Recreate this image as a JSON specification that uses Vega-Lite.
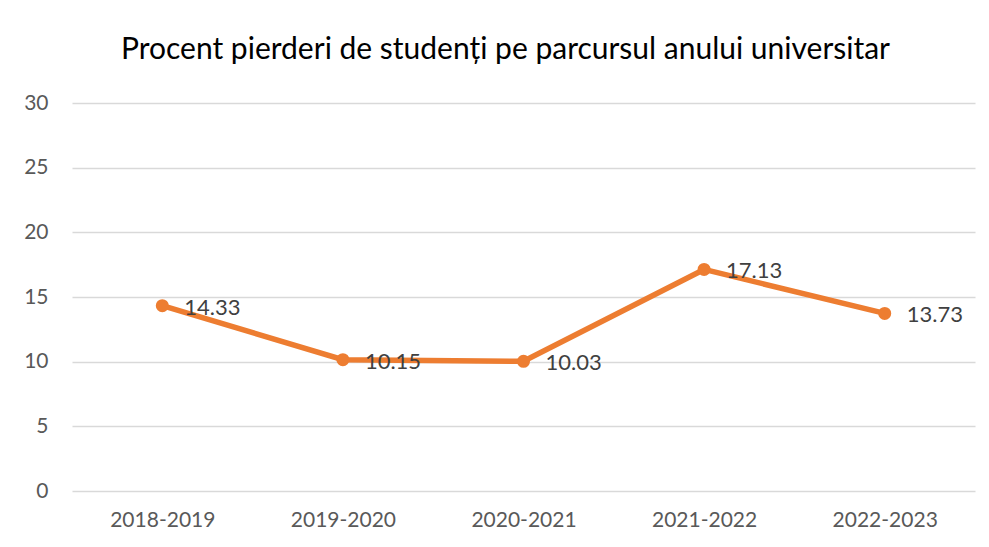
{
  "$schema": "https://vega.github.io/schema/vega-lite/v6.json",
  "width": 903,
  "height": 388,
  "autosize": "none",
  "padding": {"left": 72, "top": 103, "right": 14, "bottom": 56},
  "background": "white",
  "config": {"view": {"stroke": null}, "font": "Lato"},
  "title": {
    "text": "Procent pierderi de studenți pe parcursul anului universitar",
    "fontSize": 30,
    "fontWeight": "normal",
    "color": "#000000",
    "font": "Lato",
    "anchor": "middle",
    "dx": -18,
    "offset": 27
  },
  "data": {
    "values": [
      {"an": "2018-2019", "procent": 14.33},
      {"an": "2019-2020", "procent": 10.15},
      {"an": "2020-2021", "procent": 10.03},
      {"an": "2021-2022", "procent": 17.13},
      {"an": "2022-2023", "procent": 13.73}
    ]
  },
  "encoding": {
    "x": {
      "field": "an",
      "type": "ordinal",
      "title": null,
      "scale": {"paddingOuter": 0.25},
      "axis": {
        "labelAngle": 0,
        "labelFontSize": 21,
        "labelColor": "#595959",
        "labelPadding": 18,
        "ticks": false,
        "domain": false,
        "grid": false
      }
    },
    "y": {
      "field": "procent",
      "type": "quantitative",
      "title": null,
      "scale": {"domain": [0, 30]},
      "axis": {
        "values": [0, 5, 10, 15, 20, 25, 30],
        "labelFontSize": 21,
        "labelColor": "#595959",
        "labelPadding": 24,
        "ticks": false,
        "domain": false,
        "grid": true,
        "gridColor": "#d9d9d9",
        "gridWidth": 1.5
      }
    }
  },
  "layer": [
    {"mark": {"type": "line", "color": "#ED7D31", "strokeWidth": 5.5}},
    {"mark": {"type": "point", "filled": true, "color": "#ED7D31", "size": 170, "opacity": 1}},
    {
      "mark": {"type": "text", "align": "left", "baseline": "middle", "dx": 22, "dy": 2, "fontSize": 22, "color": "#404040"},
      "encoding": {"text": {"field": "procent", "type": "quantitative", "format": ".2f"}}
    }
  ]
}
